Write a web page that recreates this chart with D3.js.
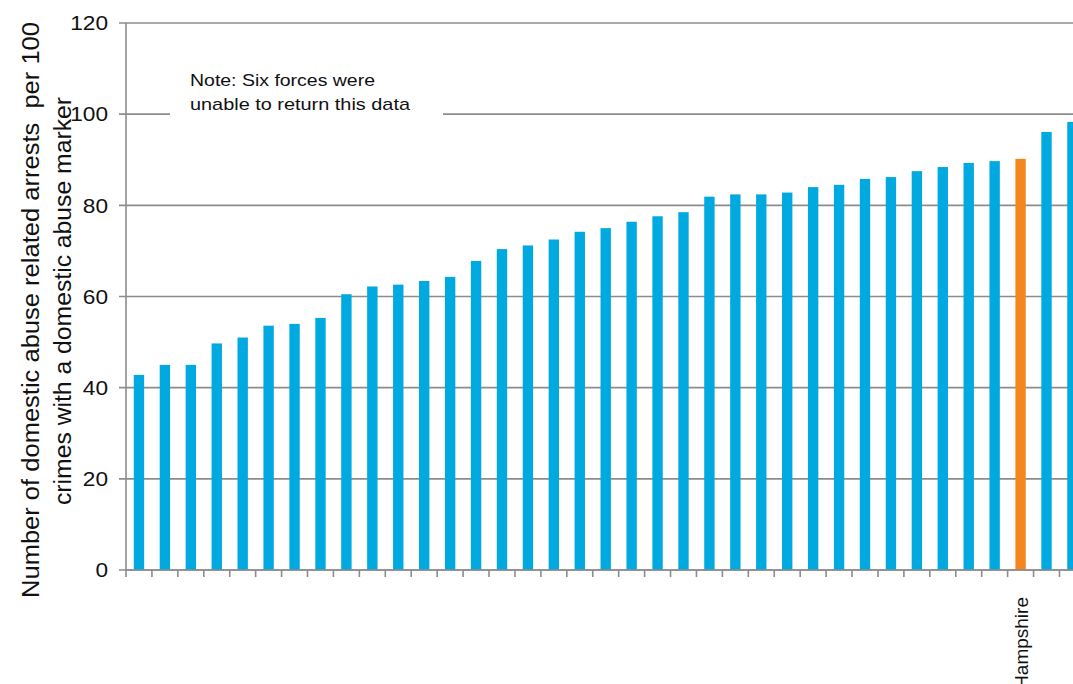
<!DOCTYPE html>
<html>
<head>
<meta charset="utf-8">
<script src="https://cdn.jsdelivr.net/npm/d3@7"></script>
<style>
  body { margin: 0; background: #fff; }
  svg { display: block; font-family: "Liberation Sans", Arial, sans-serif; }
</style>
</head>
<body>
<svg width="1073" height="684"></svg>
<script>
// forces, sorted by arrest rate; only Hampshire is labelled on the axis
var labels = ["", "", "", "", "", "", "", "", "", "", "", "", "", "", "", "", "", "", "",
              "", "", "", "", "", "", "", "", "", "", "", "", "", "", "", "Hampshire", "", ""];
var values = [42.8, 45.0, 45.0, 49.7, 51.0, 53.6, 54.0, 55.3, 60.5, 62.2, 62.6, 63.4, 64.3,
              67.8, 70.4, 71.2, 72.5, 74.2, 75.0, 76.4, 77.6, 78.5, 81.9, 82.4, 82.4, 82.8,
              84.0, 84.5, 85.8, 86.2, 87.5, 88.4, 89.3, 89.7, 90.2, 96.1, 98.3];
var yTicks = [0, 20, 40, 60, 80, 100, 120];
var highlight = "Hampshire";
var yTitle = ["Number of domestic abuse related arrests  per 100",
              "crimes with a domestic abuse marker"];
var note = ["Note: Six forces were", "unable to return this data"];

var data = values.map(function(v, i) { return {i: i, label: labels[i], value: v}; });

var svg = d3.select("svg"),
    mLeft = 126, mTop = 23, mBottom = 570,
    band = 25.93;

var x = d3.scaleBand()
    .domain(data.map(function(d) { return d.i; }))
    .range([mLeft, mLeft + band * data.length])
    .paddingInner(0.6).paddingOuter(0.3);

var y = d3.scaleLinear()
    .domain([0, 120])
    .range([mBottom, mTop]);

// gridlines
svg.append("g")
    .selectAll("line")
    .data(yTicks)
    .enter().append("line")
    .attr("x1", mLeft - 7).attr("x2", 1073)
    .attr("y1", function(d) { return y(d); })
    .attr("y2", function(d) { return y(d); })
    .attr("stroke", "#8c8c8c")
    .attr("stroke-width", 1.6);

// y labels (the source is a bit stretched sideways)
svg.append("g")
    .selectAll("text")
    .data(yTicks)
    .enter().append("text")
    .attr("x", 108)
    .attr("y", function(d) { return y(d); })
    .attr("dy", "0.36em")
    .attr("text-anchor", "end")
    .attr("font-size", "20px")
    .attr("fill", "#111")
    .attr("textLength", function(d) { return String(d).length * 12.6; })
    .attr("lengthAdjust", "spacingAndGlyphs")
    .text(function(d) { return d; });

// note box hiding the gridline
var ng = svg.append("g");
ng.append("rect")
    .attr("x", 170).attr("y", 62).attr("width", 273).attr("height", 56)
    .attr("fill", "#fff");
ng.selectAll("text")
    .data(note)
    .enter().append("text")
    .attr("x", 190)
    .attr("y", function(d, i) { return 86 + i * 24; })
    .attr("font-size", "17px")
    .attr("fill", "#111")
    .attr("textLength", function(d, i) { return i ? 220 : 185; })
    .attr("lengthAdjust", "spacingAndGlyphs")
    .text(function(d) { return d; });

// bars
svg.append("g")
    .selectAll("rect")
    .data(data)
    .enter().append("rect")
    .attr("x", function(d) { return x(d.i); })
    .attr("width", x.bandwidth())
    .attr("y", function(d) { return y(d.value); })
    .attr("height", function(d) { return y(0) - y(d.value); })
    .attr("fill", function(d) { return d.label === highlight ? "#f5861f" : "#00a9e0"; });

// x axis
var xa = svg.append("g");
xa.append("line")
    .attr("x1", mLeft).attr("x2", 1073)
    .attr("y1", mBottom).attr("y2", mBottom)
    .attr("stroke", "#8c8c8c").attr("stroke-width", 1.6);
xa.selectAll("line.tick")
    .data(d3.range(data.length + 1))
    .enter().append("line")
    .attr("class", "tick")
    .attr("x1", function(k) { return mLeft + k * band; })
    .attr("x2", function(k) { return mLeft + k * band; })
    .attr("y1", mBottom).attr("y2", mBottom + 7)
    .attr("stroke", "#8c8c8c").attr("stroke-width", 1.6);
xa.selectAll("text")
    .data(data.filter(function(d) { return d.label; }))
    .enter().append("text")
    .attr("transform", function(d) {
        return "translate(" + (x(d.i) + x.bandwidth() / 2 + 7) + "," + (mBottom + 27) + ") rotate(-90)";
    })
    .attr("text-anchor", "end")
    .attr("font-size", "19px")
    .attr("fill", "#111")
    .text(function(d) { return d.label; });

// y axis line
svg.append("line")
    .attr("x1", mLeft).attr("x2", mLeft)
    .attr("y1", mTop).attr("y2", mBottom)
    .attr("stroke", "#8c8c8c").attr("stroke-width", 1.6);

// y title
svg.append("text")
    .attr("transform", "translate(39,310) rotate(-90)")
    .attr("text-anchor", "middle")
    .attr("font-size", "23px")
    .attr("fill", "#111")
    .style("white-space", "pre")
    .selectAll("tspan")
    .data(yTitle)
    .enter().append("tspan")
    .attr("x", function(d, i) { return i ? 9 : 0; })
    .attr("dy", function(d, i) { return i ? 32 : 0; })
    .attr("textLength", function(d, i) { return i ? 408 : 576; })
    .attr("lengthAdjust", "spacingAndGlyphs")
    .text(function(d) { return d; });
</script>
</body>
</html>
